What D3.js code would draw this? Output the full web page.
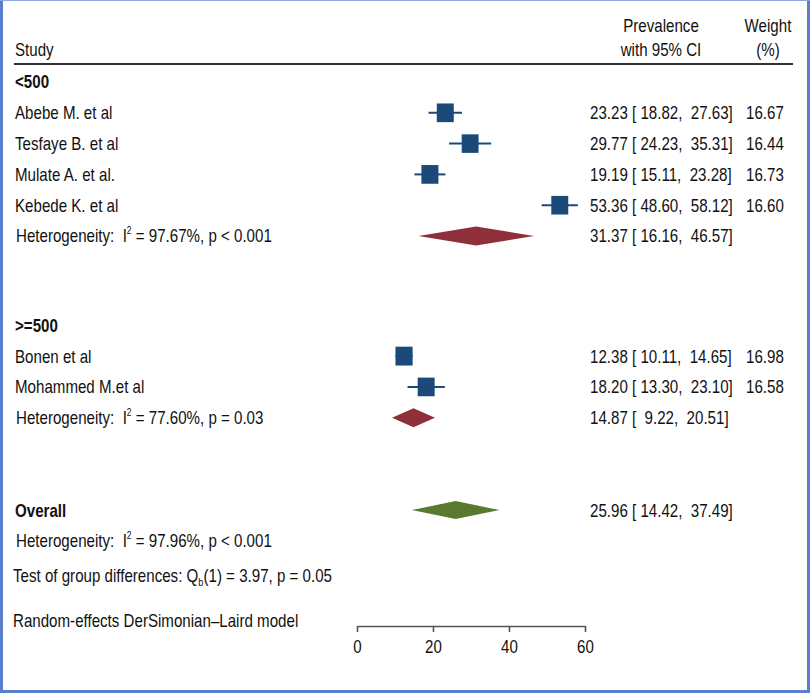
<!DOCTYPE html>
<html><head><meta charset="utf-8">
<script src="https://cdn.jsdelivr.net/npm/d3@7"></script>
<style>
html,body{margin:0;padding:0;background:#fff;}
text{font-family:"Liberation Sans Narrow","Arial Narrow","Liberation Sans",Arial,sans-serif;font-size:18px;fill:#111;white-space:pre;}
</style></head>
<body>
<svg id="c" width="810" height="693"></svg>
<script>
// ---- data ----
const groups = ["<500", ">=500"];
const studies = ["Abebe M. et al","Tesfaye B. et al","Mulate A. et al.","Kebede K. et al","Bonen et al","Mohammed M.et al"];
const studyGroup = [0,0,0,0,1,1];
const est = [23.23, 29.77, 19.19, 53.36, 12.38, 18.20];
const lower = [18.82, 24.23, 15.11, 48.60, 10.11, 13.30];
const upper = [27.63, 35.31, 23.28, 58.12, 14.65, 23.10];
const weight = [16.67, 16.44, 16.73, 16.60, 16.98, 16.58];
const subEst = [31.37, 14.87];
const subLower = [16.16, 9.22];
const subUpper = [46.57, 20.51];
const subI2 = ["97.67%", "77.60%"];
const subP = ["p < 0.001", "p = 0.03"];
const overall = {est:25.96, lower:14.42, upper:37.49, i2:"97.96%", p:"p < 0.001"};
const groupTest = {q:"3.97", df:"1", p:"0.05"};
const xTicks = [0, 20, 40, 60];

// ---- layout ----
const svg = d3.select("#c");
const x = d3.scaleLinear().domain([0, 60]).range([357, 585]);
const y = d3.scaleLinear().domain([0, 1]).range([82, 112.8]);
const fmt = d3.format(".2f");
const f6 = v => (" ".repeat(6) + fmt(v)).slice(-6);   // like Stata %6.2f
const ciStr = (e,l,u) => `${fmt(e)} [${f6(l)}, ${f6(u)}]`;
const navy = "#1b4a7a", maroon = "#8e2f3a", green = "#577a2e";
const xL = 15, xCI = 590, xW = 746;
const SX = 0.84; // horizontal condensing (narrow font look)

// frame
svg.append("rect").attr("x",0).attr("y",0).attr("width",810).attr("height",693).attr("fill","#fff");
svg.append("line").attr("x1",1.5).attr("x2",1.5).attr("y1",0).attr("y2",693).attr("stroke","#5a7fcd").attr("stroke-width",3);
svg.append("line").attr("x1",808.5).attr("x2",808.5).attr("y1",0).attr("y2",693).attr("stroke","#5a7fcd").attr("stroke-width",3);
svg.append("line").attr("x1",0).attr("x2",810).attr("y1",691.5).attr("y2",691.5).attr("stroke","#5a7fcd").attr("stroke-width",3);
svg.append("line").attr("x1",0).attr("x2",810).attr("y1",0.5).attr("y2",0.5).attr("stroke","#8ea6dc").attr("stroke-width",1);

function ntext(xp, yp) {
  return svg.append("g").attr("transform", `translate(${xp},${yp}) scale(${SX},1)`)
    .append("text").attr("x", 0).attr("y", 0).attr("dy", "0.36em");
}
function txt(xp, yp, s, opts={}) {
  const t = ntext(xp, yp).text(s);
  if (opts.anchor) t.attr("text-anchor", opts.anchor);
  if (opts.bold) t.attr("font-weight", "bold");
  return t;
}

// header
txt(661, 26, "Prevalence", {anchor:"middle"});
txt(661, 50, "with 95% CI", {anchor:"middle"});
txt(768, 26, "Weight", {anchor:"middle"});
txt(768, 50, "(%)", {anchor:"middle"});
txt(xL, 50, "Study");
svg.append("line").attr("x1",14).attr("x2",793).attr("y1",64).attr("y2",64).attr("stroke","#333").attr("stroke-width",2.2);

function het(yp, i2, p) {
  const t = ntext(xL+1, yp);
  t.append("tspan").text("Heterogeneity:  I");
  t.append("tspan").attr("dy","-8px").attr("font-size","10px").text("2");
  t.append("tspan").attr("dy","8px").text(` = ${i2}, ${p}`);
}
function diamond(yp, e, l, u, col, h) {
  const pts = [[x(l), yp], [x(e), yp - h/2], [x(u), yp], [x(e), yp + h/2]];
  svg.append("path").attr("d", d3.line()(pts) + "Z").attr("fill", col);
}

const sqBase = 17 / Math.sqrt(16.7);
let row = 0;
const groupRowStart = [0, 7.9];
groups.forEach((g, gi) => {
  row = groupRowStart[gi];
  txt(xL, y(row), g, {bold:true});
  row++;
  studies.forEach((s, i) => {
    if (studyGroup[i] !== gi) return;
    const yp = y(row);
    txt(xL, yp, s);
    svg.append("line").attr("x1", x(lower[i])).attr("x2", x(upper[i]))
      .attr("y1", yp).attr("y2", yp).attr("stroke", navy).attr("stroke-width", 2);
    const sw = sqBase * Math.sqrt(weight[i]);
    const shgt = sw * 1.1;
    svg.append("rect").attr("x", x(est[i]) - sw/2).attr("y", yp - shgt/2)
      .attr("width", sw).attr("height", shgt).attr("fill", navy);
    txt(xCI, yp, ciStr(est[i], lower[i], upper[i]));
    txt(xW, yp, fmt(weight[i]));
    row++;
  });
  const yp = y(row);
  het(yp, subI2[gi], subP[gi]);
  diamond(yp, subEst[gi], subLower[gi], subUpper[gi], maroon, 19);
  txt(xCI, yp, ciStr(subEst[gi], subLower[gi], subUpper[gi]));
});

// overall
row = 13.9;
const yo = y(row);
txt(xL, yo, "Overall", {bold:true});
diamond(yo, overall.est, overall.lower, overall.upper, green, 18);
txt(xCI, yo, ciStr(overall.est, overall.lower, overall.upper));
het(y(row+1), overall.i2, overall.p);

// group test
{
  const t = ntext(13, 576);
  t.append("tspan").text("Test of group differences: Q");
  t.append("tspan").attr("dy","4px").attr("font-size","11px").text("b");
  t.append("tspan").attr("dy","-4px").text(`(${groupTest.df}) = ${groupTest.q}, p = ${groupTest.p}`);
}
txt(13, 621, "Random-effects DerSimonian\u2013Laird model");

// axis
const ax = svg.append("g").attr("transform", "translate(0,626)")
  .call(d3.axisBottom(x).tickValues(xTicks).tickSize(6).tickSizeOuter(0).tickPadding(8));
ax.select(".domain").attr("stroke", "#555").attr("stroke-width", 1.6);
ax.selectAll(".tick line").attr("stroke", "#555").attr("stroke-width", 1.6);
ax.selectAll(".tick text").style("font-size", "18px").attr("fill", "#111")
  .attr("transform", `scale(${SX},1)`);
</script>
</body></html>
